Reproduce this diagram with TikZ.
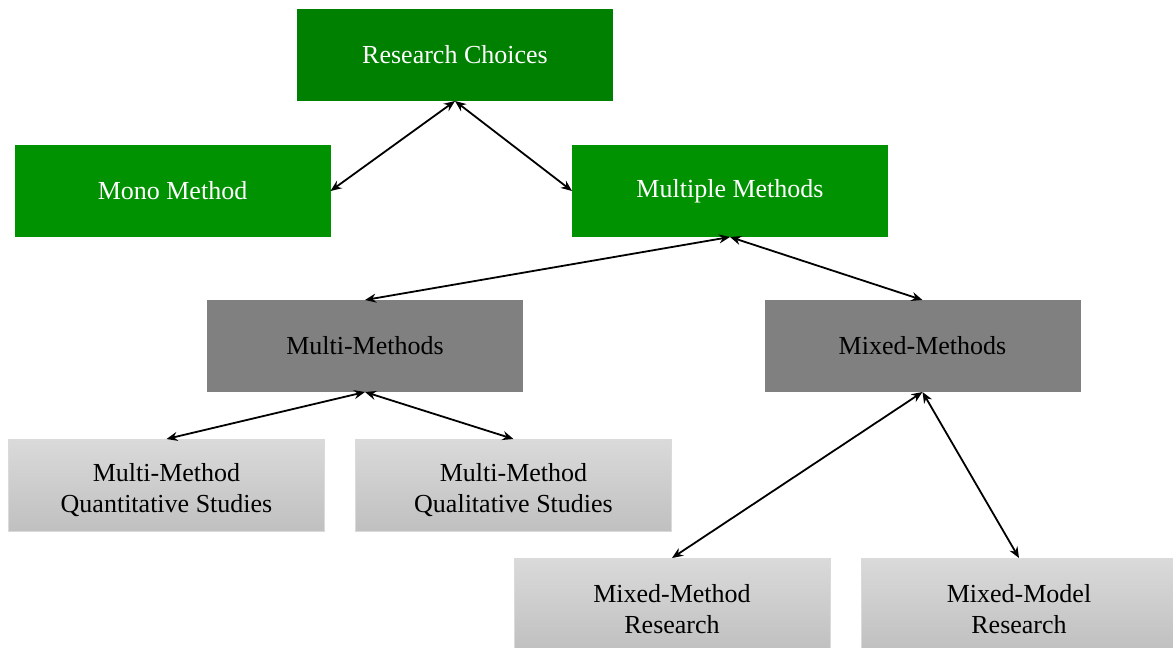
\documentclass[tikz,border=0pt]{standalone}
\usepackage{fontspec}
\setmainfont{Liberation Serif}
\usetikzlibrary{arrows.meta}
\definecolor{greendark}{RGB}{0,128,0}
\definecolor{greenmid}{RGB}{0,146,0}
\definecolor{greymid}{RGB}{128,128,128}
\definecolor{greytop}{RGB}{218,218,218}
\definecolor{greybot}{RGB}{192,192,192}
\tikzset{
  box/.style={rectangle, inner sep=0pt, outer sep=0pt, minimum width=158pt,
    minimum height=46pt, align=center, font=\fontsize{13}{15.5}\selectfont},
  topbox/.style={box, fill=greendark, text=white},
  greenbox/.style={box, fill=greenmid, text=white},
  midbox/.style={box, fill=greymid, text=black},
  leafbox/.style={box, top color=greytop, bottom color=greybot, draw=greytop, line width=0.4pt, text=black},
  link/.style={{Stealth[length=5.5pt,width=4.5pt]}-{Stealth[length=5.5pt,width=4.5pt]}, line width=0.9pt, black}
}
\begin{document}
\begin{tikzpicture}[x=0.5pt, y=-0.5pt]
\useasboundingbox (0,0) rectangle (1173,648);

\node[topbox]   (rc)    at (455,55)   {Research Choices};
\node[greenbox] (mono)  at (172.5,191) {Mono Method};
\node[greenbox] (multi) at (730,191)  {Multiple Methods};
\node[midbox]   (mm)    at (365,346)  {Multi-Methods};
\node[midbox]   (mx)    at (922.5,346) {Mixed-Methods};
\node[leafbox]  (quan)  at (166.5,485) {\rule{0pt}{14pt}Multi-Method\\Quantitative Studies};
\node[leafbox]  (qual)  at (513.5,485) {\rule{0pt}{14pt}Multi-Method\\Qualitative Studies};
\node[leafbox]  (mmr)   at (672,604)  {\rule{0pt}{14pt}Mixed-Method\\Research};
\node[leafbox]  (mdr)   at (1019,604) {\rule{0pt}{14pt}Mixed-Model\\Research};

\draw[link] (rc.south) -- (mono.east);
\draw[link] (rc.south) -- (multi.west);
\draw[link] (multi.south) -- (mm.north);
\draw[link] (multi.south) -- (mx.north);
\draw[link] (mm.south) -- (quan.north);
\draw[link] (mm.south) -- (qual.north);
\draw[link] (mx.south) -- (mmr.north);
\draw[link] (mx.south) -- (mdr.north);
\end{tikzpicture}
\end{document}
